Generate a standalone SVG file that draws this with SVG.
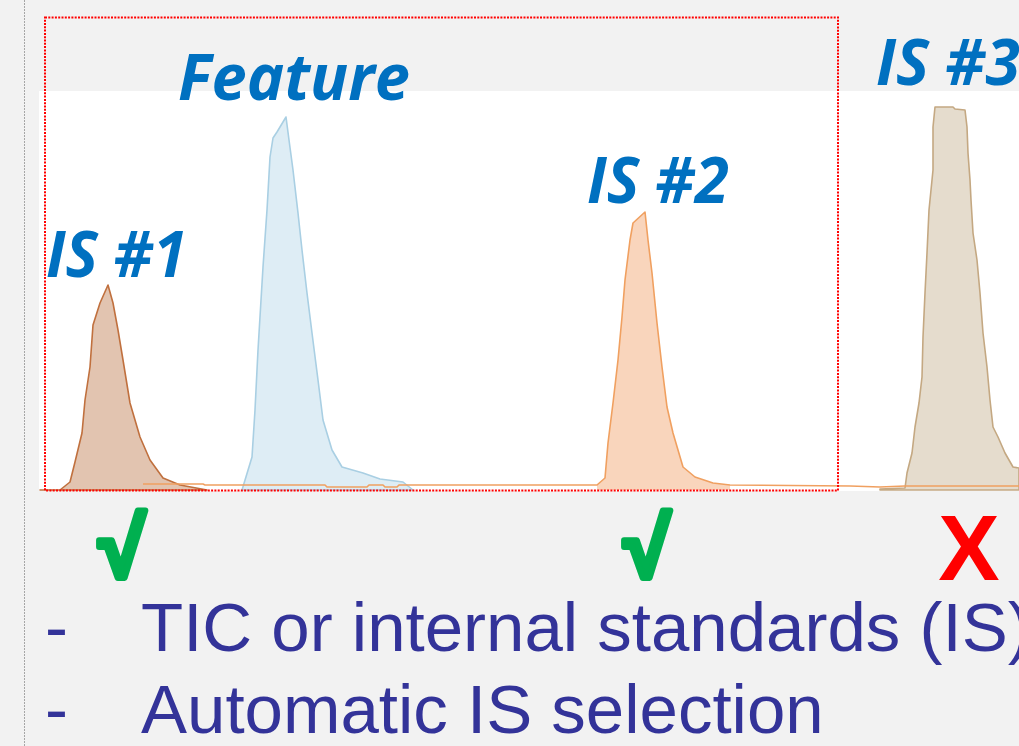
<svg xmlns="http://www.w3.org/2000/svg" width="1019" height="746" viewBox="0 0 1019 746">
<style>
.lbl{font-family:"Open Sans","Liberation Sans",sans-serif;font-weight:bold;font-style:italic;fill:#0070C0;font-size:64px}
.mark{font-family:"Liberation Sans","DejaVu Sans",sans-serif;font-weight:bold;font-size:92px}
.chk{font-family:"Liberation Sans","DejaVu Sans",sans-serif;font-weight:bold;font-size:84px;fill:#00B050;stroke:#00B050;stroke-width:6;stroke-linejoin:round}
.bul{font-family:"Liberation Sans",Arial,sans-serif;fill:#333399;font-size:69px}
.pk{stroke-width:1.6;stroke-linejoin:round}
</style>
<rect width="1019" height="746" fill="#f2f2f2"/>
<line x1="24.5" y1="0" x2="24.5" y2="746" stroke="#a6a6a6" stroke-width="1" stroke-dasharray="2 1"/>
<g id="plot">
<rect x="39" y="91" width="980" height="400" fill="#ffffff"/>
<g id="peaks">
<polygon id="is1" class="pk" fill="#e2c4b0" stroke="#c0703e" points="40,490 60,490 70,482 75,462 82,433 85,400 90,367 93,325 100,303 108,285 113,303 118,330 123,360 130,403 140,437 150,460 163,478 180,485 207,490"/>
<polygon id="feature" class="pk" fill="#deedf5" stroke="#a9cfe3" points="242,490 252,457 255,410 258,350 263,267 267,210 270,157 273,138 277,132 286,117 289,140 293,170 298,213 302,250 307,293 312,333 318,380 323,420 332,450 342,467 363,473 380,479 403,482 413,490"/>
<polygon id="is3" class="pk" fill="#e5dccd" stroke="#c4a882" points="880,489 905,488 907,473 912,453 915,427 919,403 922,377 923,337 925,293 927,253 929,210 931,190 933,170 933,127 935,107 953,107 955,109 965,110 967,127 968,153 970,180 971,200 973,233 977,260 980,293 983,333 987,367 990,400 993,427 998,437 1005,453 1013,467 1019,468 1019,490 880,490"/>
<polygon id="is2fill" fill="#f9d5bc" points="597,485 605,478 608,443 613,403 618,360 622,317 625,280 630,240 633,223 645,212 648,240 652,273 657,323 662,367 667,407 673,433 683,467 695,477 713,483 730,485 730,490 597,490"/>
<polyline id="is2" fill="none" stroke="#f0a060" stroke-width="1.6" stroke-linejoin="round" points="143,484 203,484 205,485 325,485 327,487 367,487 369,485 383,485 385,487 397,487 399,485 597,485 605,478 608,443 613,403 618,360 622,317 625,280 630,240 633,223 645,212 648,240 652,273 657,323 662,367 667,407 673,433 683,467 695,477 713,483 730,485 850,486 880,487 905,486 1019,486"/>
</g>
<rect id="window" x="45" y="17.5" width="793" height="473" fill="none" stroke="#ff0000" stroke-width="2" stroke-dasharray="2 1.3"/>
</g>
<g id="labels">
<text id="lbl-feature" class="lbl" x="178" y="100" textLength="232" lengthAdjust="spacingAndGlyphs">Feature</text>
<text id="lbl-is1" class="lbl" x="46" y="277" textLength="141" lengthAdjust="spacingAndGlyphs">IS #1</text>
<text id="lbl-is2" class="lbl" x="587" y="203" textLength="142" lengthAdjust="spacingAndGlyphs">IS #2</text>
<text id="lbl-is3" class="lbl" x="876" y="85" textLength="144" lengthAdjust="spacingAndGlyphs">IS #3</text>
</g>
<g id="marks">
<text class="chk" x="122" y="577" text-anchor="middle">√</text>
<text class="chk" x="647" y="577" text-anchor="middle">√</text>
<text class="mark" x="969" y="580" fill="#ff0000" text-anchor="middle">X</text>
</g>
<g id="bullets">
<text class="bul" x="45" y="651">-</text>
<text class="bul" x="141" y="651">TIC or internal standards (IS)</text>
<text class="bul" x="45" y="733">-</text>
<text class="bul" x="141" y="733">Automatic IS selection</text>
</g>
</svg>
